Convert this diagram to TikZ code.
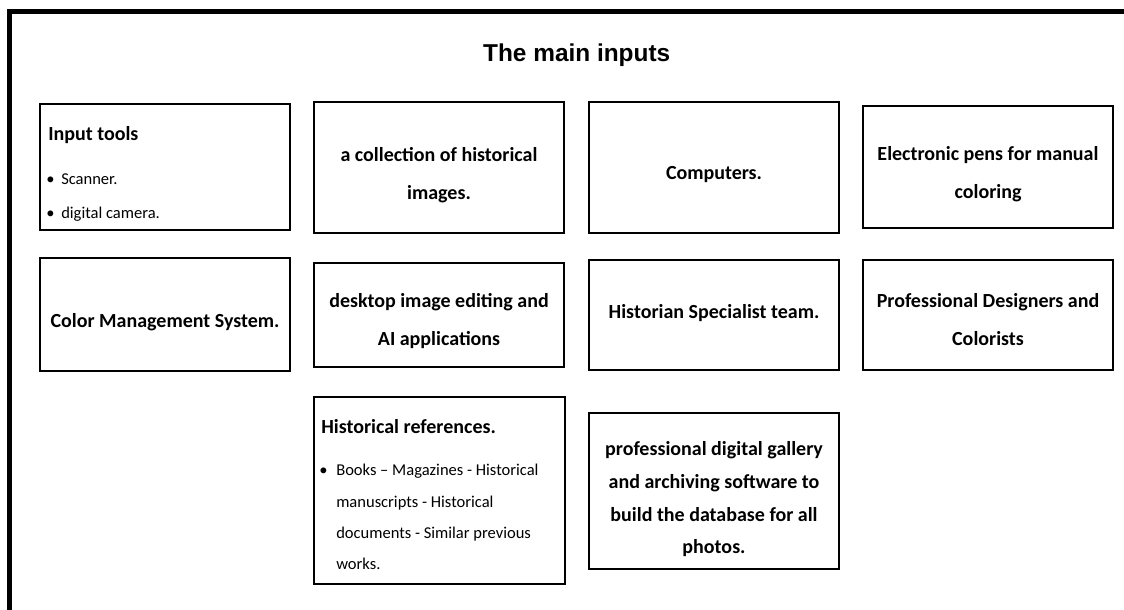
\documentclass[tikz,border=0pt]{standalone}
\usepackage{fontspec}
\setmainfont{Carlito}
\newfontfamily\titlefont{Liberation Sans}
\begin{document}
\begin{tikzpicture}[x=0.75pt,y=-0.75pt,
  inbox/.style n args={2}{draw=black, line width=1.2pt, rectangle,
    minimum width=#1*0.75pt, minimum height=#2*0.75pt, inner sep=0pt},
  ctext/.style={align=center, inner sep=0pt, font=\fontsize{15}{28.5}\selectfont\bfseries},
  gtext/.style={align=center, inner sep=0pt, font=\fontsize{15}{24.5}\selectfont\bfseries},
  htext/.style={anchor=base west, inner sep=0pt, font=\fontsize{15}{18}\selectfont\bfseries},
  btext/.style={anchor=base west, inner sep=0pt, font=\fontsize{12.4}{15}\selectfont},
  frame/.style={line width=3.75pt, line join=miter}
]
\useasboundingbox (0,0) rectangle (1124,610);
\fill[white] (0,0) rectangle (1124,610);

% outer frame (left and top)
\coordinate (fb) at (9.5,615);
\coordinate (fc) at (9.5,11.5);
\coordinate (fr) at (1130,11.5);
\draw[frame] (fb) -- (fc) -- (fr);

% title
\node[anchor=base, inner sep=0pt, font=\titlefont\fontsize{18.3}{22}\selectfont\bfseries] (title) at (576.7,62) {The main inputs};

% row 1
\node[inbox={250}{126}] (b1) at (165,167) {};
\node[htext] (h1) at (48,140) {Input tools};
\node[btext] (d1a) at (46,184) {•};
\node[btext] (l1a) at (61,184) {Scanner.};
\node[btext] (d1b) at (46,218) {•};
\node[btext] (l1b) at (61,218) {digital camera.};

\node[inbox={250}{131}] (b2) at (439,167.5) {};
\node[ctext] (t2) at (439,174.7) {a collection of historical\\images.};

\node[inbox={250}{131}] (b3) at (714,167.5) {};
\node[ctext] (t3) at (714,174.5) {Computers.};

\node[inbox={250}{122}] (b4) at (988,167) {};
\node[ctext] (t4) at (988,174) {Electronic pens for manual\\coloring};

% row 2
\node[inbox={250}{113}] (b5) at (165,314.5) {};
\node[ctext] (t5) at (165,322.6) {Color Management System.};

\node[inbox={250}{104}] (b6) at (439,315) {};
\node[ctext] (t6) at (439,321.5) {desktop image editing and\\AI applications};

\node[inbox={250}{110}] (b7) at (714,315) {};
\node[ctext] (t7) at (714,313.5) {Historian Specialist team.};

\node[inbox={250}{110}] (b8) at (988,315) {};
\node[ctext] (t8) at (988,319.7) {Professional Designers and\\Colorists};

% row 3
\node[inbox={251}{187}] (b9) at (439.5,490.5) {};
\node[htext] (h9) at (321,433) {Historical references.};
\node[btext] (d9) at (319,475) {•};
\node[btext] (l9a) at (336,475) {Books – Magazines - Historical};
\node[btext] (l9b) at (336,507) {manuscripts - Historical};
\node[btext] (l9c) at (336,538) {documents - Similar previous};
\node[btext] (l9d) at (336,569) {works.};

\node[inbox={250}{156}] (b10) at (714,491) {};
\node[gtext] (t10) at (714,499.5) {professional digital gallery\\and archiving software to\\build the database for all\\photos.};
\end{tikzpicture}
\end{document}
